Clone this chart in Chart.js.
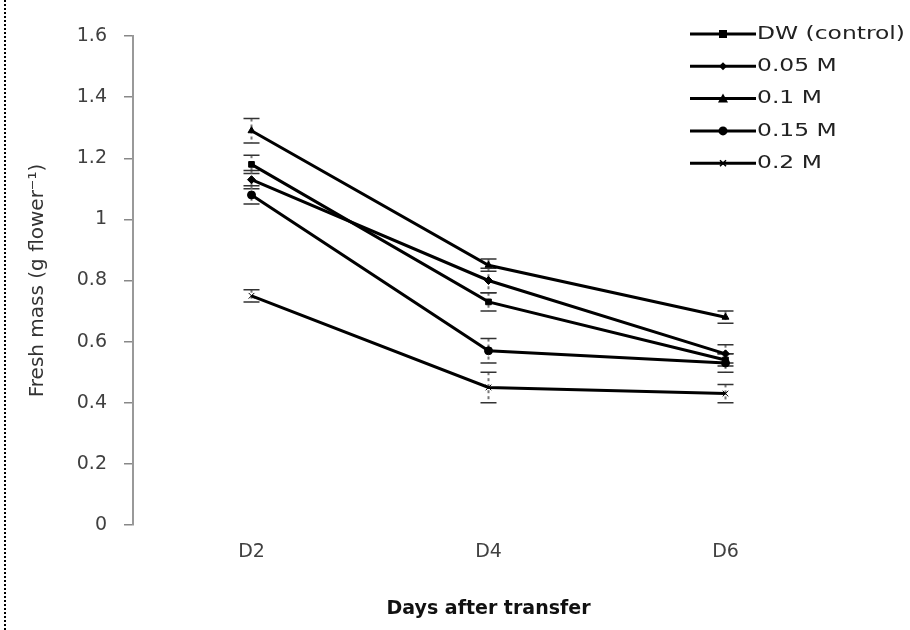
<!DOCTYPE html>
<html>
<head>
<meta charset="utf-8">
<script src="https://cdn.jsdelivr.net/npm/chart.js@4/dist/chart.umd.min.js"></script>
<style>
html, body { margin: 0; padding: 0; background: #fff; }
#wrap { width: 910px; height: 630px; }
</style>
</head>
<body>
<div id="wrap"><canvas id="grafica" width="910" height="630"></canvas></div>
<script>
// datos
var dias = ["D2", "D4", "D6"];
var etiquetas = ["DW (control)", "0.05 M", "0.1 M", "0.15 M", "0.2 M"];
var dw = [1.18, 0.73, 0.54];
var m005 = [1.13, 0.80, 0.56];
var m01 = [1.29, 0.85, 0.68];
var m015 = [1.08, 0.57, 0.53];
var m02 = [0.75, 0.45, 0.43];
var errDw = [0.03, 0.03, 0.02];
var err005 = [0.03, 0.04, 0.03];
var err01 = [0.04, 0.02, 0.02];
var err015 = [0.03, 0.04, 0.03];
var err02 = [0.02, 0.05, 0.03];
var marcadores = ["rect", "rectRot", "triangle", "circle", "crossRot"];

var fuente = "'DejaVu Sans', sans-serif";

function serie(nombre, datos, errores, marca) {
    return {
        label: nombre,
        data: datos,
        errores: errores,
        borderColor: "#000",
        backgroundColor: "#000",
        borderWidth: 3,
        pointStyle: marca,
        pointRadius: 4,
        pointBorderWidth: 1,
        tension: 0
    };
}

function dibujarMarca(ctx, marca, x, y) { //marcador pequeño para la leyenda
    ctx.save();
    ctx.fillStyle = "#000";
    ctx.strokeStyle = "#000";
    ctx.lineWidth = 1.5;
    ctx.beginPath();
    if (marca == "rect") {
        ctx.rect(x - 4, y - 4, 8, 8);
        ctx.fill();
    } else if (marca == "rectRot") {
        ctx.moveTo(x, y - 4); ctx.lineTo(x + 4, y); ctx.lineTo(x, y + 4); ctx.lineTo(x - 4, y);
        ctx.closePath(); ctx.fill();
    } else if (marca == "triangle") {
        ctx.moveTo(x, y - 5); ctx.lineTo(x + 5, y + 4); ctx.lineTo(x - 5, y + 4);
        ctx.closePath(); ctx.fill();
    } else if (marca == "circle") {
        ctx.arc(x, y, 4.5, 0, Math.PI * 2);
        ctx.fill();
    } else {
        ctx.moveTo(x - 3, y - 3); ctx.lineTo(x + 3, y + 3);
        ctx.moveTo(x + 3, y - 3); ctx.lineTo(x - 3, y + 3);
        ctx.stroke();
    }
    ctx.restore();
}

var barrasError = {
    id: "barrasError",
    beforeDatasetsDraw: function (chart) {
        var ctx = chart.ctx;
        var xs = chart.scales.x, ys = chart.scales.y;
        ctx.save();
        chart.data.datasets.forEach(function (ds) {
            ds.data.forEach(function (v, i) {
                var x = xs.getPixelForValue(i);
                var y1 = ys.getPixelForValue(v + ds.errores[i]);
                var y2 = ys.getPixelForValue(v - ds.errores[i]);
                ctx.setLineDash([3, 3]);
                ctx.strokeStyle = "#777";
                ctx.lineWidth = 2;
                ctx.beginPath();
                ctx.moveTo(x, y1); ctx.lineTo(x, y2);
                ctx.stroke();
                ctx.setLineDash([]);
                ctx.strokeStyle = "#333";
                ctx.lineWidth = 1.5;
                ctx.beginPath();
                ctx.moveTo(x - 8, y1); ctx.lineTo(x + 8, y1);
                ctx.moveTo(x - 8, y2); ctx.lineTo(x + 8, y2);
                ctx.stroke();
            });
        });
        ctx.restore();
    }
};

var leyenda = {
    id: "leyenda",
    beforeDraw: function (chart) { //borde punteado a la izquierda
        var ctx = chart.ctx;
        ctx.save();
        ctx.setLineDash([2, 2]);
        ctx.strokeStyle = "#000";
        ctx.lineWidth = 2;
        ctx.beginPath();
        ctx.moveTo(5, 0); ctx.lineTo(5, 630);
        ctx.stroke();
        ctx.restore();
    },
    afterDraw: function (chart) {
        var ctx = chart.ctx;
        ctx.save();
        chart.data.datasets.forEach(function (ds, i) {
            var y = 34 + i * 32.3;
            ctx.strokeStyle = "#000";
            ctx.lineWidth = 3;
            ctx.beginPath();
            ctx.moveTo(690, y); ctx.lineTo(756, y);
            ctx.stroke();
            dibujarMarca(ctx, ds.pointStyle, 723, y);
            // texto un poco ensanchado como en el original
            ctx.save();
            ctx.translate(757, y);
            ctx.scale(1.3, 1);
            ctx.font = "18px " + fuente;
            ctx.textBaseline = "middle";
            ctx.fillStyle = "#222";
            ctx.fillText(ds.label, 0, 0);
            ctx.restore();
        });
        ctx.restore();
    }
};

var grafica = new Chart(document.getElementById("grafica"), {
    type: "line",
    data: {
        labels: dias,
        datasets: [
            serie(etiquetas[0], dw, errDw, marcadores[0]),
            serie(etiquetas[1], m005, err005, marcadores[1]),
            serie(etiquetas[2], m01, err01, marcadores[2]),
            serie(etiquetas[3], m015, err015, marcadores[3]),
            serie(etiquetas[4], m02, err02, marcadores[4])
        ]
    },
    options: {
        responsive: false,
        animation: false,
        layout: { padding: { top: 36, right: 66, left: 0, bottom: 0 } },
        plugins: {
            legend: { display: false },
            tooltip: { enabled: false }
        },
        scales: {
            x: {
                offset: true,
                afterFit: function (s) { s.height = 105; },
                grid: { display: false },
                border: { display: false },
                ticks: { color: "#404040", font: { family: fuente, size: 19 }, padding: 8 },
                title: {
                    display: true,
                    text: "Days after transfer",
                    color: "#111",
                    font: { family: fuente, size: 19, weight: "bold" },
                    padding: { top: 0, bottom: 10 }
                }
            },
            y: {
                min: 0,
                max: 1.6,
                afterFit: function (s) { s.width = 133; },
                grid: { drawOnChartArea: false, drawTicks: true, tickLength: 9, color: "#888", lineWidth: 1.5 },
                border: { color: "#999", width: 2 },
                ticks: {
                    stepSize: 0.2,
                    padding: 17,
                    color: "#404040",
                    font: { family: fuente, size: 19 },
                    callback: function (v) { return String(Math.round(v * 10) / 10); }
                },
                title: {
                    display: true,
                    text: "Fresh mass (g flower\u207B\u00B9)",
                    color: "#333",
                    font: { family: fuente, size: 20 },
                    padding: { top: 26, bottom: 0 }
                }
            }
        }
    },
    plugins: [barrasError, leyenda]
});
</script>
</body>
</html>
